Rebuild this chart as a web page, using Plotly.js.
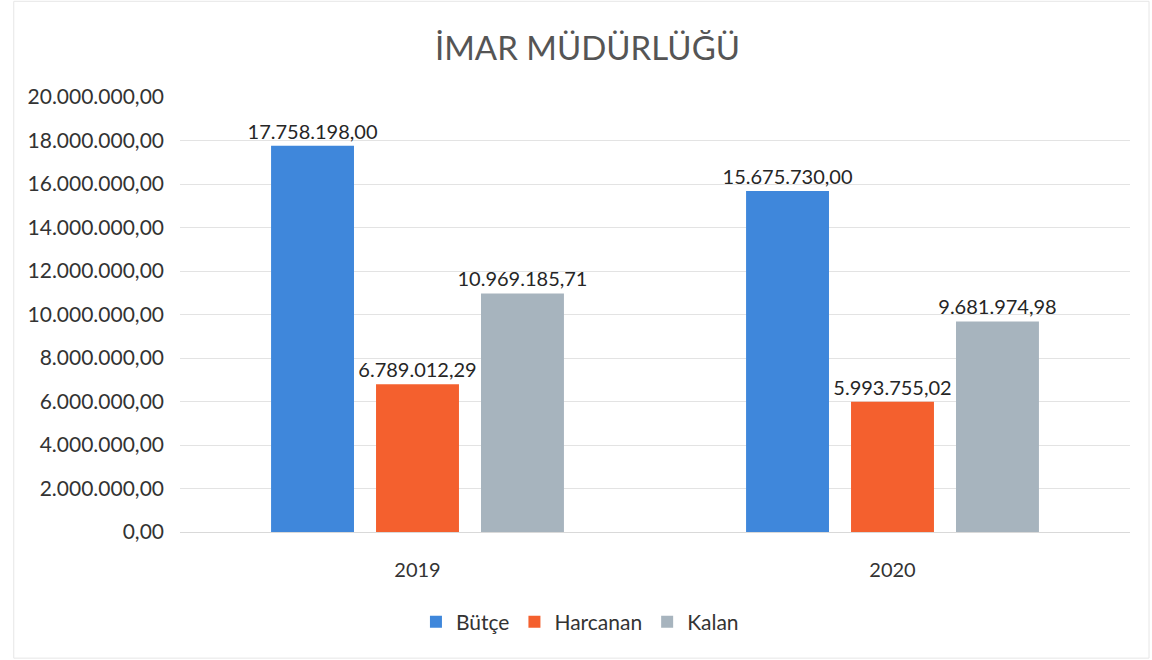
<!DOCTYPE html>
<html><head><meta charset="utf-8">
<script src="https://cdn.plot.ly/plotly-3.0.1.min.js"></script>
<style>html,body{margin:0;padding:0;background:#fff}#chart{width:1152px;height:660px}</style>
</head><body><div id="chart"></div>
<script>
const years = ['2019', '2020'];
const butce = [17758198.00, 15675730.00];
const harcanan = [6789012.29, 5993755.02];
const kalan = [10969185.71, 9681974.98];
const seriesNames = ['Bütçe', 'Harcanan', 'Kalan'];
const colors = ['#3f87db', '#f4602e', '#a7b4be'];
const yTicks = [0,2000000,4000000,6000000,8000000,10000000,12000000,14000000,16000000,18000000,20000000];

const font = 'Lato, "Open Sans", sans-serif';
const mk = (vals, i) => ({
  type: 'bar', x: years, y: vals, name: seriesNames[i],
  marker: {color: colors[i]},
  texttemplate: '%{y:,.2f}', textposition: 'outside', constraintext: 'none',
  cliponaxis: false, textfont: {family: font, size: 20, color: '#262626'},
  hoverinfo: 'none'
});
const data = [mk(butce,0), mk(harcanan,1), mk(kalan,2)];
const layout = {
  width: 1152, height: 660,
  margin: {l: 180, r: 22, t: 97, b: 128},
  separators: ',.',
  paper_bgcolor: '#fff', plot_bgcolor: '#fff',
  title: {text: 'İMAR MÜDÜRLÜĞÜ', x: 0.51, xanchor: 'center', y: 0.927, yanchor: 'middle',
          font: {family: font, size: 33, color: '#555'}},
  barmode: 'group', bargap: 0.337, bargroupgap: 0.21,
  xaxis: {type: 'category', range: [-0.5, 1.5], showline: false, ticks: '', 
          ticklabelstandoff: 24,
          tickfont: {family: font, size: 20, color: '#333'}},
  yaxis: {range: [0, 20000000], tickvals: yTicks, tickformat: ',.2f',
          gridcolor: '#e3e3e3', zeroline: true, zerolinecolor: '#d9d9d9',
          showline: false, ticks: '', ticklabelstandoff: 15,
          tickfont: {family: font, size: 21, color: '#333'}},
  showlegend: true,
  legend: {orientation: 'h', x: 0.421, xanchor: 'center', y: -0.16, yanchor: 'top',
           font: {family: font, size: 21, color: '#333'}, itemwidth: 30, itemgap: 13, traceorder: 'normal'},
  shapes: [{type: 'rect', xref: 'paper', yref: 'paper', x0: -0.175, x1: 1.02, y0: -0.29, y1: 1.22,
            line: {color: '#e6e6e6', width: 1}}]
};
Plotly.newPlot('chart', data, layout, {displayModeBar: false, staticPlot: true});
</script></body></html>
